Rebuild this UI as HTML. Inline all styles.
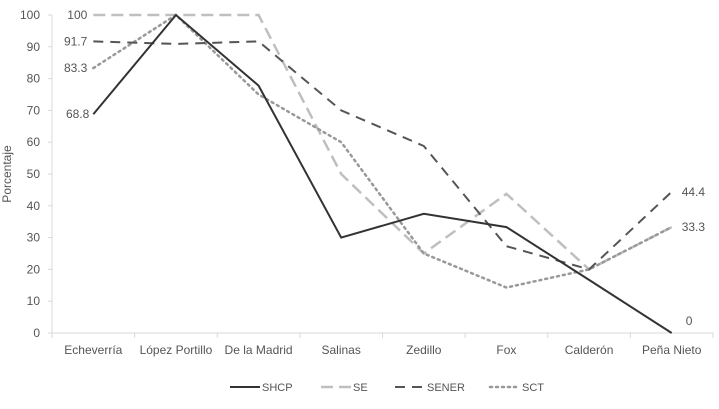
<!DOCTYPE html>
<html><head><meta charset="utf-8"><style>
body{margin:0;background:#fff;font-family:"Liberation Sans",sans-serif;}
svg text{font-family:"Liberation Sans",sans-serif;fill:#555;}
</style></head><body>
<svg width="719" height="404" id="chart"></svg>
<script>
const categories=["Echeverría","López Portillo","De la Madrid","Salinas","Zedillo","Fox","Calderón","Peña Nieto"];
const shcp=[68.8,100,77.8,30,37.5,33.3,16.7,0];
const se=[100,100,100,50,25,43.75,20,33.3];
const sener=[91.7,90.9,91.7,70,58.8,27.3,20,44.4];
const sct=[83.3,100,75,60,25,14.3,20,33.3];
const yTicks=[0,10,20,30,40,50,60,70,80,90,100];
const NS="http://www.w3.org/2000/svg";
const svg=document.getElementById('chart');
const L=52,R=713,T=15,B=333;
const bw=(R-L)/categories.length;
const x=i=>L+bw*(i+0.5);
const y=v=>B-(v/100)*(B-T);
function mk(t,a,p){const e=document.createElementNS(NS,t);for(const k in a)e.setAttribute(k,a[k]);(p||svg).appendChild(e);return e;}
let e;
e=mk('line',{x1:L,y1:T,x2:L,y2:B,stroke:'#d9d9d9'});


e=mk('line',{x1:L,y1:B,x2:R,y2:B,stroke:'#d9d9d9'});


yTicks.forEach(v=>{
 e=mk('line',{x1:L-4,y1:y(v),x2:L,y2:y(v),stroke:'#d9d9d9'});
 
 
 e=mk('text',{x:40,y:y(v)+4,'text-anchor':'end','font-size':12});
 e.textContent=v;
 
 
});
for(let i=0;i<=categories.length;i++){
 e=mk('line',{x1:L+bw*i,y1:B,x2:L+bw*i,y2:B+5,stroke:'#d9d9d9'});
 
 
}
categories.forEach((c,i)=>{
 e=mk('text',{x:x(i),y:354,'text-anchor':'middle','font-size':12});
 e.textContent=c;
 
 
});
e=mk('text',{x:11,y:174,'text-anchor':'middle','font-size':12,transform:'rotate(-90 11 174)'});
e.textContent='Porcentaje';


const series=[
 {name:'SHCP',v:shcp,c:'#333',dash:'',w:2},
 {name:'SE',v:se,c:'#bfbfbf',dash:'12,6',w:2.5},
 {name:'SENER',v:sener,c:'#555',dash:'10,7',w:2},
 {name:'SCT',v:sct,c:'#999',dash:'2,4',w:2.5}
];
const order=[1,3,2,0];
order.forEach(k=>{const s=series[k];
 e=mk('polyline',{points:s.v.map((v,i)=>x(i)+','+y(v)).join(' '),fill:'none',stroke:s.c,'stroke-width':s.w,'stroke-dasharray':s.dash,'stroke-linecap':s.dash==='2,4'?'round':'butt'});
 
 
});
const lab=[[se[0],0,'end',-6],[sener[0],0,'end',-6],[sct[0],0,'end',-6],[shcp[0],0,'end',-4],[sener[7],7,'start',10],[sct[7],7,'start',10],[shcp[7],7,'start',14]];
lab.forEach(([v,i,a,dx],n)=>{
 let yy=y(v)+4; if(n===6) yy=y(v)-8;
 e=mk('text',{x:x(i)+dx,y:yy,'text-anchor':a,'font-size':12});
 e.textContent=String(v);
 
 
});
const lx=[230,321,395,490];
series.forEach((s,k)=>{
 const g=mk('g',{});
 
 
 mk('line',{x1:lx[k],y1:387,x2:lx[k]+30,y2:387,stroke:s.c,'stroke-width':s.w,'stroke-dasharray':s.dash,'stroke-linecap':s.dash==='2,4'?'round':'butt'},g);
 const t=mk('text',{x:lx[k]+32,y:391,'font-size':11},g);
 t.textContent=s.name;
});
</script>
</body></html>
